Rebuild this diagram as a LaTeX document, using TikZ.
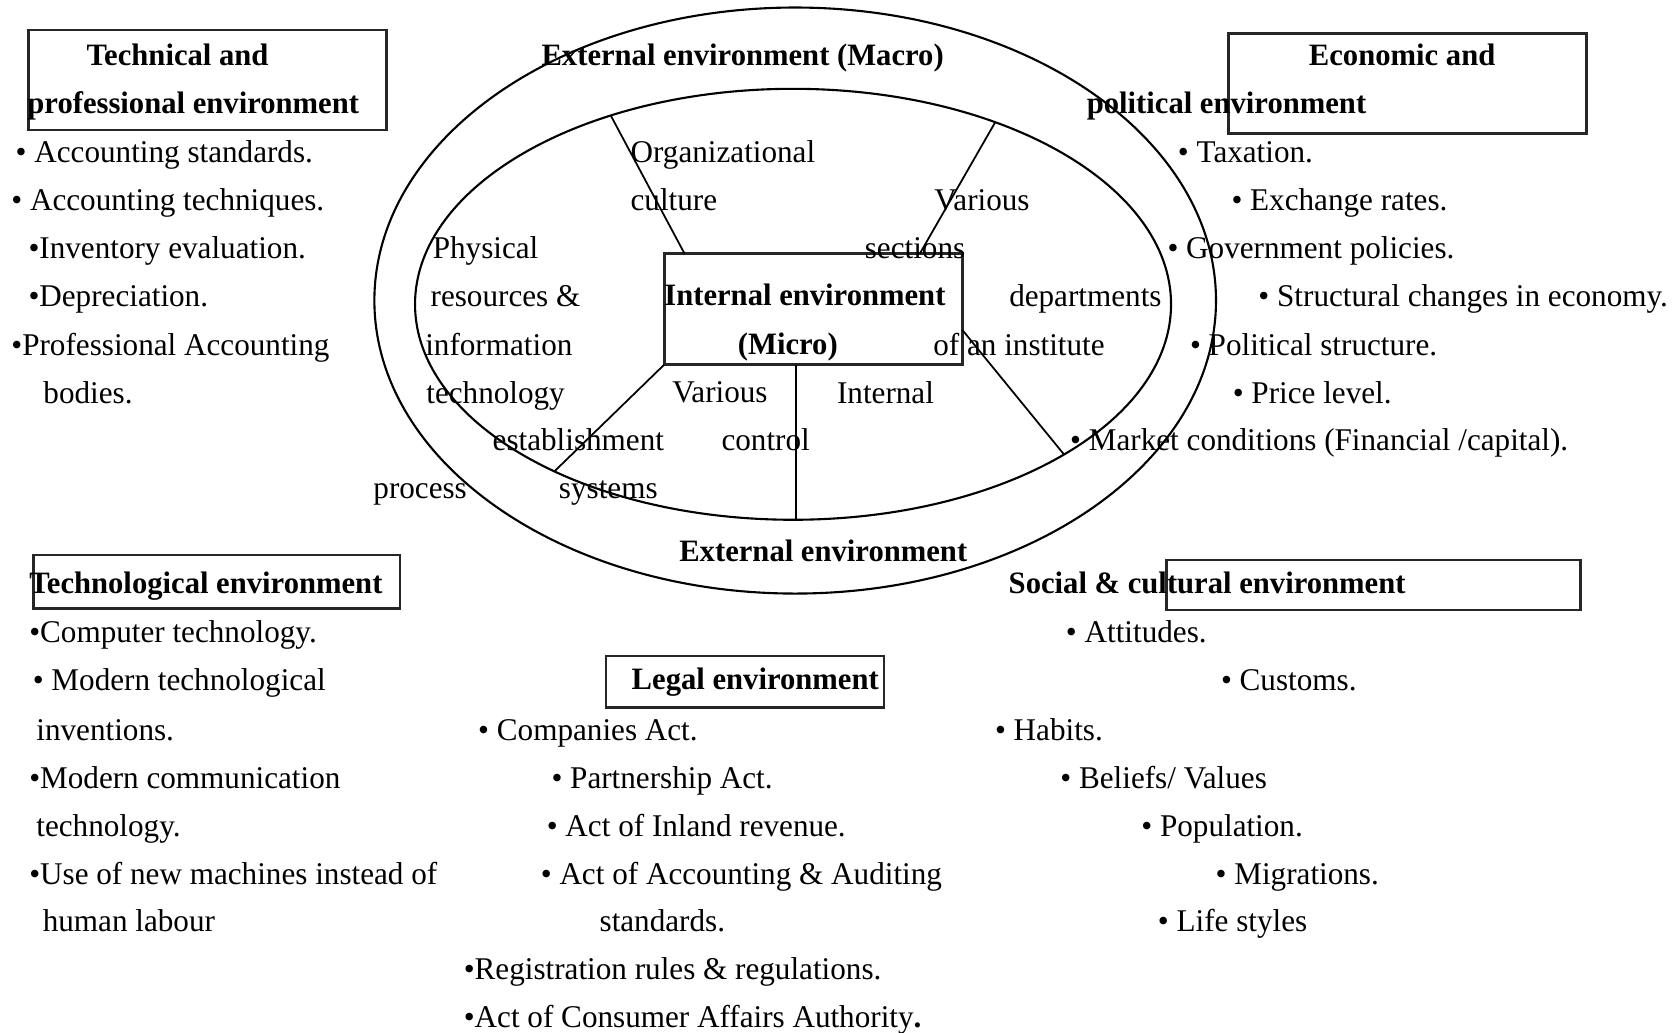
\documentclass[tikz,border=0pt]{standalone}
\usepackage{fontspec}
\setmainfont{Liberation Serif}[FakeStretch=0.985]
\usetikzlibrary{shapes.geometric,calc,fit}

\tikzset{
  item/.style={anchor=base west, inner sep=0pt, font=\fontsize{9pt}{11pt}\selectfont},
  head/.style={anchor=base west, inner sep=0pt, font=\fontsize{8.85pt}{11pt}\selectfont\bfseries},
  titlebox/.style={draw=black!85, line width=0.8pt, inner sep=0pt, outer sep=0pt},
  ring/.style={draw, ellipse, line width=0.6pt, inner sep=0pt, outer sep=0pt},
  spoke/.style={line width=0.5pt},
}

\begin{document}
\begin{tikzpicture}[x=0.010695cm, y=-0.010695cm]
\useasboundingbox (0,0) rectangle (1568,965);

% Define the two environment rings
\node[ring, minimum width=8.417cm, minimum height=5.861cm] (outer) at (743.5,281) {};
\node[ring, minimum width=7.561cm, minimum height=4.310cm] (inner) at (741.5,284.5) {};

% Internal environment box
\node[titlebox, fit={(621,237) (900,341)}] (internal) {};
\node[head, anchor=base] (intA) at (752.6,286) {Internal environment};
\node[head, anchor=base] (intB) at (736.6,331) {(Micro)};

% Points where the spokes meet the box
\coordinate (sA) at ($(internal.north west)!0.068!(internal.north east)$);
\coordinate (sB) at ($(internal.north west)!0.857!(internal.north east)$);
\coordinate (sC) at ($(internal.south west)!0.443!(internal.south east)$);
\coordinate (sD) at ($(internal.north east)!0.69!(internal.south east)$);

% Spokes out to the inner ring
\draw[spoke] (inner.134.5) -- (sA);
\draw[spoke] (inner.42.75) -- (sB);
\draw[spoke] (internal.south west) -- (inner.215.6);
\draw[spoke] (sC) -- (sC |- inner.south);
\draw[spoke] (sD) -- (inner.331.2);

% Title frames
\node[titlebox, fit={(26.7,28) (361.3,121.6)}] (tpbox) {};
\node[titlebox, fit={(1149,31.2) (1483.7,124.7)}] (epbox) {};
\node[titlebox, fit={(31.7,519) (374,568.8)}] (tcbox) {};
\node[titlebox, fit={(566.6,613.4) (826.5,661.7)}] (lgbox) {};
\node[titlebox, fit={(1091,523.6) (1477.8,570.4)}] (scbox) {};

% Ring labels
\node[head] (macro) at (505.7,61) {External environment (Macro)};
\node[head] (extB) at (634.5,525) {External environment};

% Inside the inner ring
\node[item] (in1) at (589,152) {Organizational};
\node[item] (in2) at (589,197) {culture};
\node[item] (in3) at (873,197) {Various};
\node[item] (in4) at (808,242) {sections};
\node[item] (in5) at (404,242) {Physical};
\node[item] (in6) at (402,287) {resources \&};
\node[item] (in7) at (397,332) {information};
\node[item] (in8) at (398,377) {technology};
\node[item] (in9) at (460,421) {establishment};
\node[item] (in10) at (348.5,466) {process};
\node[item] (in11) at (522,466) {systems};
\node[item] (in12) at (628,376) {Various};
\node[item] (in13) at (674,421) {control};
\node[item] (in14) at (782,377) {Internal};
\node[item] (in15) at (943,287) {departments};
\node[item] (in16) at (872,332) {of an institute};

% Technical and professional environment
\node[head, anchor=base] (tpA) at (166,61) {Technical and};
\node[head] (tpB) at (25,106) {professional environment};
\node[item] (tp1) at (14,152) {• Accounting standards.};
\node[item] (tp2) at (10,197) {• Accounting techniques.};
\node[item] (tp3) at (26,242) {•Inventory evaluation.};
\node[item] (tp4) at (26,287) {•Depreciation.};
\node[item] (tp5) at (10,332) {•Professional Accounting};
\node[item] (tp6) at (40,377) {bodies.};

% Economic and political environment
\node[head, anchor=base] (epA) at (1311,61) {Economic and};
\node[head] (epB) at (1015.5,106) {political environment};
\node[item] (ep1) at (1100.7,152) {• Taxation.};
\node[item] (ep2) at (1150.8,197) {• Exchange rates.};
\node[item] (ep3) at (1091,242) {• Government policies.};
\node[item] (ep4) at (1176,287) {• Structural changes in economy.};
\node[item] (ep5) at (1112,332) {• Political structure.};
\node[item] (ep6) at (1152,377) {• Price level.};
\node[item] (ep7) at (1000,421) {• Market conditions (Financial /capital).};

% Technological environment
\node[head] (tcA) at (26.7,555) {Technological environment};
\node[item] (tc1) at (26.7,601) {•Computer technology.};
\node[item] (tc2) at (30,646) {• Modern technological};
\node[item] (tc3) at (33.4,692) {inventions.};
\node[item] (tc4) at (26.7,737) {•Modern communication};
\node[item] (tc5) at (33.4,782) {technology.};
\node[item] (tc6) at (26.7,827) {•Use of\ new machines instead of};
\node[item] (tc7) at (39.4,871) {human labour};

% Legal environment
\node[head] (lgA) at (590,645) {Legal environment};
\node[item] (lg1) at (446.5,692) {• Companies Act.};
\node[item] (lg2) at (515,737) {• Partnership Act.};
\node[item] (lg3) at (510.6,782) {• Act of Inland revenue.};
\node[item] (lg4) at (505,827) {• Act of Accounting \& Auditing};
\node[item] (lg5) at (560,871) {standards.};
\node[item] (lg6) at (433,916) {•Registration rules \& regulations.};
\node[item] (lg7) at (433,961) {•Act of Consumer Affairs Authority\textbf{.}};

% Social and cultural environment
\node[head] (scA) at (942.5,555) {Social \& cultural environment};
\node[item] (sc1) at (996,601) {• Attitudes.};
\node[item] (sc2) at (1141,646) {• Customs.};
\node[item] (sc3) at (929.7,692) {• Habits.};
\node[item] (sc4) at (990.8,737) {• Beliefs/ Values};
\node[item] (sc5) at (1066.5,782) {• Population.};
\node[item] (sc6) at (1136,827) {• Migrations.};
\node[item] (sc7) at (1082,871) {• Life styles};
\end{tikzpicture}
\end{document}
